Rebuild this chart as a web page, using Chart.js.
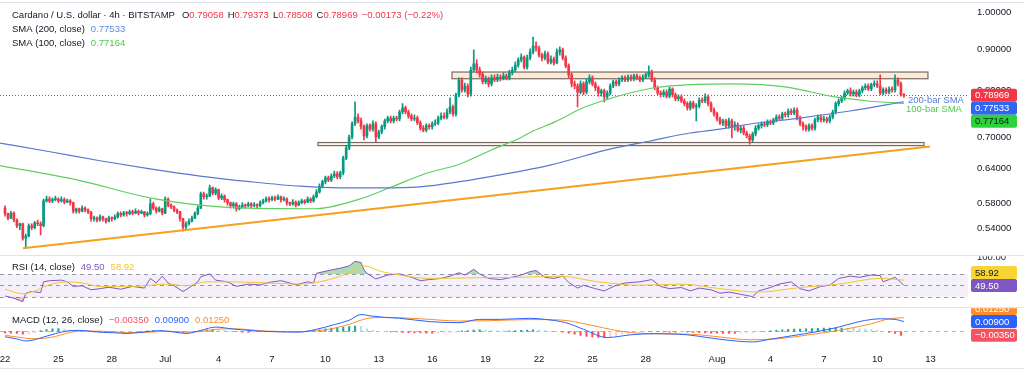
<!DOCTYPE html>
<html><head><meta charset="utf-8">
<script src="https://cdn.jsdelivr.net/npm/chart.js@4.4.1/dist/chart.umd.min.js"></script>
<style>html,body{margin:0;padding:0;background:#fff;overflow:hidden}</style>
</head><body>
<canvas id="c" width="1024" height="377"></canvas>
<script>
// ---------------- DATA ----------------
const BARS_PER_DAY = 6;            // 4h candles, bar 0 = Jun 22 00:00
const firstOpen = 0.572;
const closes = [
0.563,0.556,0.564,0.553,0.544,0.547,0.525,0.528,0.544,0.541,
0.548,0.547,0.544,0.584,0.587,0.584,0.586,0.587,0.584,0.586,
0.582,0.584,0.581,0.567,0.571,0.567,0.572,0.569,0.566,0.555,
0.556,0.553,0.558,0.555,0.551,0.556,0.555,0.558,0.563,0.561,
0.564,0.563,0.566,0.564,0.567,0.564,0.566,0.561,0.563,0.579,
0.572,0.567,0.571,0.564,0.587,0.577,0.574,0.569,0.566,0.555,
0.542,0.547,0.551,0.556,0.563,0.572,0.596,0.591,0.592,0.606,
0.597,0.603,0.589,0.592,0.586,0.581,0.576,0.579,0.571,0.574,
0.577,0.576,0.579,0.576,0.577,0.576,0.581,0.584,0.587,0.586,
0.589,0.587,0.591,0.586,0.587,0.581,0.579,0.582,0.577,0.581,
0.584,0.582,0.587,0.584,0.591,0.599,0.609,0.617,0.624,0.620,
0.627,0.631,0.626,0.633,0.660,0.679,0.701,0.728,0.742,0.734,
0.722,0.703,0.724,0.717,0.728,0.701,0.711,0.722,0.734,0.740,
0.734,0.740,0.738,0.753,0.762,0.753,0.744,0.738,0.740,0.730,
0.719,0.715,0.724,0.722,0.728,0.730,0.740,0.744,0.742,0.753,
0.764,0.749,0.791,0.825,0.802,0.811,0.793,0.849,0.864,0.849,
0.839,0.821,0.828,0.816,0.830,0.825,0.832,0.828,0.835,0.830,
0.842,0.849,0.861,0.874,0.881,0.856,0.879,0.894,0.909,0.904,
0.886,0.879,0.889,0.869,0.876,0.866,0.894,0.899,0.879,0.859,
0.837,0.816,0.811,0.797,0.816,0.797,0.821,0.830,0.816,0.807,
0.795,0.800,0.786,0.795,0.811,0.821,0.816,0.825,0.830,0.825,
0.832,0.828,0.835,0.830,0.825,0.832,0.837,0.844,0.825,0.807,
0.795,0.791,0.797,0.788,0.804,0.791,0.782,0.786,0.777,0.771,
0.762,0.773,0.764,0.766,0.779,0.777,0.786,0.771,0.757,0.749,
0.738,0.730,0.734,0.724,0.734,0.722,0.726,0.715,0.719,0.709,
0.703,0.695,0.707,0.719,0.724,0.728,0.726,0.732,0.730,0.736,
0.742,0.740,0.749,0.747,0.755,0.751,0.757,0.740,0.728,0.722,
0.717,0.724,0.719,0.736,0.742,0.736,0.738,0.734,0.742,0.753,
0.771,0.777,0.784,0.795,0.800,0.793,0.797,0.791,0.800,0.807,
0.811,0.804,0.814,0.816,0.811,0.795,0.802,0.797,0.804,0.802,
0.825,0.816,0.79058,0.78969];
const highs = [
0.576,0.564,0.567,0.566,0.555,0.548,0.548,0.531,0.547,0.547,
0.551,0.553,0.550,0.587,0.592,0.591,0.589,0.592,0.589,0.591,
0.589,0.587,0.586,0.582,0.572,0.572,0.576,0.574,0.571,0.567,
0.559,0.558,0.561,0.559,0.556,0.559,0.558,0.561,0.566,0.566,
0.567,0.567,0.569,0.569,0.571,0.569,0.569,0.567,0.566,0.587,
0.582,0.574,0.574,0.572,0.591,0.589,0.579,0.576,0.571,0.567,
0.556,0.550,0.555,0.559,0.566,0.576,0.599,0.599,0.596,0.611,
0.608,0.606,0.604,0.596,0.594,0.587,0.582,0.582,0.581,0.577,
0.581,0.579,0.582,0.581,0.581,0.579,0.584,0.587,0.591,0.591,
0.592,0.592,0.594,0.592,0.591,0.589,0.582,0.586,0.584,0.584,
0.587,0.586,0.591,0.589,0.594,0.603,0.613,0.620,0.627,0.627,
0.631,0.636,0.635,0.636,0.664,0.683,0.705,0.732,0.775,0.749,
0.740,0.726,0.728,0.728,0.734,0.732,0.715,0.726,0.738,0.744,
0.744,0.744,0.744,0.757,0.771,0.766,0.757,0.749,0.747,0.744,
0.734,0.724,0.728,0.728,0.732,0.736,0.744,0.751,0.751,0.760,
0.784,0.768,0.795,0.830,0.830,0.818,0.816,0.856,0.899,0.874,
0.856,0.844,0.835,0.832,0.837,0.837,0.839,0.837,0.842,0.839,
0.849,0.856,0.869,0.879,0.889,0.884,0.886,0.902,0.933,0.920,
0.909,0.891,0.896,0.894,0.884,0.881,0.902,0.907,0.904,0.884,
0.864,0.842,0.823,0.816,0.823,0.821,0.828,0.837,0.835,0.821,
0.811,0.804,0.804,0.800,0.816,0.825,0.825,0.830,0.835,0.835,
0.837,0.837,0.839,0.839,0.835,0.837,0.842,0.859,0.849,0.830,
0.811,0.800,0.802,0.802,0.809,0.807,0.795,0.791,0.791,0.782,
0.775,0.777,0.777,0.771,0.784,0.784,0.793,0.791,0.775,0.762,
0.753,0.742,0.738,0.738,0.740,0.738,0.732,0.730,0.724,0.724,
0.713,0.707,0.711,0.724,0.728,0.732,0.732,0.736,0.736,0.740,
0.747,0.747,0.753,0.753,0.760,0.760,0.762,0.762,0.744,0.732,
0.726,0.728,0.728,0.740,0.747,0.747,0.744,0.742,0.747,0.757,
0.775,0.782,0.788,0.800,0.804,0.807,0.802,0.802,0.804,0.811,
0.816,0.816,0.818,0.823,0.823,0.837,0.807,0.807,0.809,0.809,
0.837,0.830,0.821,0.79373];
const lows = [
0.559,0.553,0.555,0.550,0.541,0.538,0.522,0.510,0.527,0.538,
0.539,0.544,0.530,0.542,0.582,0.581,0.581,0.584,0.581,0.582,
0.579,0.581,0.577,0.564,0.564,0.564,0.566,0.566,0.563,0.551,
0.551,0.550,0.551,0.551,0.548,0.550,0.551,0.553,0.556,0.558,
0.559,0.559,0.561,0.561,0.563,0.561,0.563,0.558,0.559,0.561,
0.569,0.564,0.566,0.561,0.563,0.574,0.571,0.566,0.563,0.551,
0.536,0.539,0.545,0.550,0.555,0.561,0.571,0.587,0.587,0.591,
0.594,0.594,0.586,0.586,0.582,0.577,0.572,0.572,0.567,0.569,
0.572,0.572,0.574,0.572,0.574,0.572,0.574,0.579,0.582,0.582,
0.584,0.584,0.586,0.582,0.584,0.577,0.576,0.577,0.574,0.576,
0.579,0.579,0.581,0.581,0.582,0.589,0.597,0.606,0.613,0.617,
0.617,0.624,0.622,0.622,0.629,0.657,0.676,0.697,0.724,0.730,
0.717,0.695,0.699,0.713,0.713,0.691,0.697,0.707,0.717,0.730,
0.730,0.730,0.734,0.734,0.749,0.749,0.740,0.734,0.734,0.726,
0.715,0.711,0.711,0.717,0.717,0.724,0.726,0.736,0.738,0.738,
0.749,0.744,0.744,0.786,0.797,0.797,0.786,0.788,0.844,0.842,
0.832,0.816,0.816,0.809,0.811,0.821,0.821,0.823,0.825,0.825,
0.825,0.837,0.844,0.856,0.869,0.851,0.851,0.874,0.889,0.896,
0.881,0.871,0.874,0.864,0.864,0.861,0.864,0.886,0.874,0.854,
0.830,0.809,0.804,0.764,0.793,0.791,0.793,0.816,0.811,0.800,
0.788,0.788,0.775,0.782,0.791,0.807,0.811,0.811,0.821,0.821,
0.821,0.823,0.823,0.825,0.821,0.821,0.828,0.832,0.821,0.802,
0.791,0.786,0.786,0.784,0.784,0.786,0.777,0.777,0.773,0.766,
0.757,0.757,0.760,0.734,0.762,0.773,0.773,0.766,0.753,0.744,
0.734,0.726,0.724,0.719,0.719,0.699,0.715,0.711,0.709,0.705,
0.699,0.687,0.691,0.703,0.715,0.719,0.722,0.722,0.726,0.726,
0.732,0.736,0.736,0.742,0.742,0.747,0.747,0.736,0.724,0.715,
0.713,0.713,0.715,0.715,0.732,0.732,0.732,0.730,0.730,0.738,
0.749,0.766,0.773,0.779,0.791,0.788,0.788,0.786,0.786,0.795,
0.802,0.800,0.800,0.809,0.807,0.791,0.791,0.793,0.793,0.797,
0.797,0.811,0.788,0.78508];

// x-axis: days since Jun 22
const tickDays   = [0,3,6,9,12,15,18,21,24,27,30,33,36,40,43,46,49,52];
const tickLabels = ['22','25','28','Jul','4','7','10','13','16','19','22','25','28','Aug','4','7','10','13'];
const priceTicks = [1.0,0.9,0.8,0.7,0.64,0.58,0.54];

// [day, value]
const sma200 = [[-0.28,0.689],[2.53,0.672],[5.34,0.655],[8.15,0.640],[10.96,0.627],[13.76,0.617],[16.57,0.609],[18.82,0.606],[21.07,0.606],[23.31,0.608],[25.56,0.617],[27.81,0.629],[30.62,0.647],[33.99,0.677],[36.24,0.693],[38.48,0.709],[40.17,0.717],[41.97,0.728],[44.66,0.740],[47.47,0.755],[50.5,0.77533]];
const sma100 = [[-0.28,0.646],[4.04,0.620],[8.15,0.589],[10.96,0.577],[13.76,0.572],[17.42,0.571],[19.83,0.586],[21.74,0.608],[23.60,0.631],[25.56,0.649],[27.36,0.676],[28.93,0.699],[29.66,0.713],[30.90,0.732],[32.47,0.762],[33.71,0.779],[35.11,0.795],[36.52,0.807],[38.48,0.814],[41.01,0.816],[43.82,0.809],[46.63,0.786],[48.48,0.777],[50.5,0.77164]];
const trendLine = [[1.01,0.510],[51.97,0.682]];
// [fromDay, toDay, lowPrice, highPrice]
const upperZone = [25.11, 51.85, 0.828, 0.844];
const lowerZone = [17.58, 51.63, 0.684, 0.690];

// [bar index, value]
const rsiLine = [[0,31],[1,30],[3,27],[5,23],[6,21],[7,36],[9,39],[12,37],[13,56],[15,58],[19,59],[21,56],[23,48],[26,49],[29,42],[32,44],[35,46.5],[39,43],[43,48],[47,45],[49,62],[51,54],[53,66],[55,54],[57,49],[60,39],[61,42],[65,56],[66,65],[69,70],[71,59],[75,56],[78,48],[82,52],[86,50.6],[89,55],[93,58],[96,54],[98,50.6],[102,56],[104,54],[105,71],[110,77],[113,80],[116,84],[118,92],[120,90],[121,77],[122,71],[125,61],[129,68],[133,70],[137,64],[140,58],[143,60],[147,62],[150,66],[153,72],[155,68],[158,78],[160,70],[163,62],[167,60],[170,63],[174,68],[177,74],[179,76],[182,64],[185,62],[188,66],[190,55],[193,45],[195,50],[199,44],[202,40],[206,50],[209,54],[214,56],[218,60],[221,48],[224,44],[228,46],[231,40],[234,45],[238,42],[241,36],[244,38],[248,34],[252,30],[254,40],[258,46],[261,52],[265,56],[268,44],[271,40],[275,48],[278,50],[281,62],[285,66],[288,64],[292,68],[295,67],[296,56],[298,60],[300,64],[302,55],[303,49.50]];
const rsiMA = [[0,43],[6,35],[9,38],[11,42],[15,51],[21,56],[26,54],[32,48],[43,48],[55,52],[61,49],[68,56],[77,56],[88,54],[99,52],[106,56],[112,64],[116,72],[121,84],[127,74],[133,68],[143,62],[157,63],[174,64],[187,66],[200,56],[214,50],[228,52],[241,44],[254,38],[268,46],[281,52],[295,62],[303,58.92]];
const macdLine = [[0,-0.0048],[4,-0.0068],[7,-0.0086],[10,-0.0075],[13,-0.005],[17,-0.002],[21,0.0005],[25,0.001],[32,-0.0006],[37,-0.0012],[41,-0.0018],[47,-0.0005],[52,0.0008],[57,-0.0005],[61,-0.0018],[66,0.001],[71,0.004],[77,0.0022],[83,0.0008],[88,0],[94,-0.0004],[99,-0.0006],[105,0.002],[111,0.0062],[116,0.0102],[120,0.0154],[123,0.0142],[128,0.0128],[133,0.012],[143,0.009],[153,0.008],[160,0.011],[167,0.011],[177,0.012],[182,0.011],[189,0.008],[195,0.002],[203,-0.0055],[211,-0.003],[219,-0.002],[230,-0.003],[238,-0.006],[244,-0.008],[252,-0.0095],[258,-0.007],[265,-0.004],[274,0],[281,0.004],[288,0.009],[295,0.0115],[300,0.011],[303,0.009]];
const signalLine = [[0,-0.0035],[4,-0.005],[9,-0.0066],[13,-0.0063],[17,-0.0045],[21,-0.0015],[25,0.0002],[32,0.0003],[41,-0.001],[49,-0.0006],[55,0.0002],[61,-0.0006],[66,0],[71,0.002],[77,0.0025],[83,0.0015],[88,0.0004],[99,-0.0002],[106,0.0008],[111,0.003],[116,0.0065],[122,0.0118],[128,0.0128],[133,0.0125],[143,0.011],[153,0.0095],[163,0.0098],[177,0.0108],[187,0.0105],[197,0.006],[207,0.0005],[217,-0.002],[231,-0.0025],[241,-0.005],[251,-0.0075],[261,-0.0065],[271,-0.003],[281,0.001],[292,0.007],[298,0.0115],[303,0.0125]];
// histogram, every 2nd bar starting at bar 0, in thousandths
const histMilli = [-1.3,-1.5,-1.8,-2.5,-2.2,-1.0,0.8,1.8,2.5,2.6,2.2,1.5,1.0,0.6,0.2,-0.3,-0.6,-0.8,-0.8,-0.7,
-0.6,-0.5,-0.2,0.2,0.5,0.8,0.6,0.4,0.0,-0.5,-0.9,-0.8,0.0,0.8,1.5,2.0,1.6,1.0,0.4,-0.2,
-0.6,-0.8,-0.7,-0.6,-0.4,-0.3,-0.3,-0.4,-0.3,-0.2,0.2,0.6,1.0,1.5,2.5,3.0,3.5,4.0,4.5,5.0,
4.5,2.5,1.0,0.2,0.0,-0.3,-0.5,-0.8,-1.0,-1.2,-1.4,-1.5,-1.5,-1.3,-1.2,-1.0,-0.6,0.5,0.8,1.2,
1.4,1.3,1.0,0.8,0.6,0.6,0.8,1.0,1.2,1.4,1.2,0.8,0.4,0.2,-0.6,-1.5,-2.5,-3.5,-4.5,-5.0,
-5.5,-5.5,-4.5,-3.5,-2.5,-1.8,-1.2,-0.6,-0.2,0.0,-0.2,-0.5,-0.6,-0.6,-0.5,-0.6,-0.8,-1.0,-1.3,-1.5,
-1.6,-1.7,-1.8,-1.8,-1.6,-1.4,-1.2,-0.5,0.0,0.5,1.0,1.5,2.0,2.2,2.2,2.4,2.6,2.8,3.0,3.0,
3.2,3.2,3.0,2.8,2.5,2.2,1.8,1.0,0.0,-0.8,-1.8,-3.5];
const lastOHLC = ['0.79058','0.79373','0.78508','0.78969'];
const lastChange = '−0.00173 (−0.22%)';
const lastSMA200 = 0.77533, lastSMA100 = 0.77164;
const lastRSI = 49.50, lastRSIMA = 58.92;
const lastHist = -0.00350, lastMACD = 0.00900, lastSignal = 0.01250;

// ---------------- STYLE ----------------
const FONT = "'Liberation Sans', Arial, sans-serif";
const DARK = '#131722', UP = '#089981', DOWN = '#f23645';
const C200 = '#5a78d0', C100 = '#5fce5f', CRSI = '#7e57c2', CRSIMA = '#f2c530', CMACD = '#2962ff', CSIG = '#ff8c2a';

const bars = closes.map((c, i) => ({o: i === 0 ? firstOpen : closes[i - 1], h: highs[i], l: lows[i], c}));
const barColor = bars.map(b => b.c >= b.o ? UP : DOWN);
const bx = i => i / BARS_PER_DAY;
const pairs = (arr, toX) => arr.map(([a, v]) => ({x: toX(a), y: v}));
const histVals = histMilli.map(v => v / 1000);
const histColors = histVals.map((v, k) => {
  const prev = k ? histVals[k - 1] : v;
  if (v >= 0) return v >= prev ? '#26a69a' : '#b2dfdb';
  return v <= prev ? '#ff5252' : '#ffcdd2';
});

function segs(ctx, x, y, list) {
  for (const [t, col, gap] of list) { ctx.fillStyle = col; ctx.fillText(t, x, y); x += ctx.measureText(t).width + (gap || 0); }
}
function box(ctx, x, yc, text, bg, fg) {
  ctx.fillStyle = bg; ctx.beginPath(); ctx.roundRect(x, yc - 6.5, 46, 13, 2); ctx.fill();
  ctx.fillStyle = fg; ctx.textAlign = 'left'; ctx.textBaseline = 'middle'; ctx.fillText(text, x + 4, yc + 0.5);
}
function stackBoxes(list, anchor) {
  const H = 13;
  for (let k = anchor - 1; k >= 0; k--) if (list[k].py > list[k + 1].py - H) list[k].py = list[k + 1].py - H;
  for (let k = anchor + 1; k < list.length; k++) if (list[k].py < list[k - 1].py + H) list[k].py = list[k - 1].py + H;
}

const decor = {
  id: 'decor',
  beforeDatasetsDraw(chart) {
    const {ctx, chartArea: a, scales: {x, y, yR, yM}} = chart;
    ctx.save();
    for (const [z, fill] of [[upperZone, 'rgba(252,226,200,0.75)'], [lowerZone, 'rgba(252,232,214,0.5)']]) {
      const x0 = x.getPixelForValue(z[0]), x1 = x.getPixelForValue(z[1]);
      const y0 = y.getPixelForValue(z[3]), y1 = y.getPixelForValue(z[2]);
      ctx.fillStyle = fill; ctx.fillRect(x0, y0, x1 - x0, y1 - y0);
      ctx.strokeStyle = '#756b63'; ctx.lineWidth = 1.2; ctx.strokeRect(x0, y0, x1 - x0, y1 - y0);
    }
    const r70 = yR.getPixelForValue(70), r30 = yR.getPixelForValue(30), r50 = yR.getPixelForValue(50);
    ctx.fillStyle = 'rgba(126,87,194,0.09)'; ctx.fillRect(a.left, r70, a.right - a.left, r30 - r70);
    ctx.strokeStyle = '#9598a1'; ctx.lineWidth = 1; ctx.setLineDash([4, 4]);
    for (const yy of [r70, r50, r30]) { ctx.beginPath(); ctx.moveTo(a.left, Math.round(yy) + 0.5); ctx.lineTo(a.right, Math.round(yy) + 0.5); ctx.stroke(); }
    // MACD zero line
    const zy = Math.round(yM.getPixelForValue(0)) + 0.5;
    ctx.strokeStyle = '#b2b5be'; ctx.beginPath(); ctx.moveTo(a.left, zy); ctx.lineTo(a.right, zy); ctx.stroke();
    // last price line
    ctx.setLineDash([1, 2]); ctx.strokeStyle = DOWN;
    const py = Math.round(y.getPixelForValue(+lastOHLC[3])) + 0.5;
    ctx.beginPath(); ctx.moveTo(a.left, py); ctx.lineTo(a.right, py); ctx.stroke();
    ctx.restore();
  },
  afterDraw(chart) {
    const {ctx, chartArea: a, scales: {x, y, yR, yM}} = chart;
    const W = chart.width;
    ctx.save();
    ctx.strokeStyle = '#e0e3eb'; ctx.lineWidth = 1;
    for (const yy of [2.5, Math.round(yR.top) + 0.5, Math.round(yM.top) + 0.5, 368.5]) {
      ctx.beginPath(); ctx.moveTo(0, yy); ctx.lineTo(W, yy); ctx.stroke();
    }
    ctx.font = '9.5px ' + FONT; ctx.textBaseline = 'middle'; ctx.textAlign = 'left';
    segs(ctx, 12, 15, [['Cardano / U.S. dollar · 4h · BITSTAMP', DARK, 7], ['O', DARK, 0], [lastOHLC[0], DOWN, 4], ['H', DARK, 0], [lastOHLC[1], DOWN, 4], ['L', DARK, 0], [lastOHLC[2], DOWN, 4], ['C', DARK, 0], [lastOHLC[3], DOWN, 4], [lastChange, DOWN, 0]]);
    segs(ctx, 12, 29, [['SMA (200, close)', DARK, 6], [lastSMA200.toFixed(5), '#5a8ae0', 0]]);
    segs(ctx, 12, 43, [['SMA (100, close)', DARK, 6], [lastSMA100.toFixed(5), '#4cc94c', 0]]);
    segs(ctx, 12, yR.top + 12, [['RSI (14, close)', DARK, 6], [lastRSI.toFixed(2), CRSI, 6], [lastRSIMA.toFixed(2), CRSIMA, 0]]);
    segs(ctx, 12, yM.top + 13, [['MACD (12, 26, close)', DARK, 6], ['−' + Math.abs(lastHist).toFixed(5), '#f7525f', 6], [lastMACD.toFixed(5), CMACD, 6], [lastSignal.toFixed(5), CSIG, 0]]);
    const ex = x.getPixelForValue(50.56) + 3;
    ctx.fillStyle = C200; ctx.fillText('200-bar SMA', ex, y.getPixelForValue(lastSMA200) - 1.8);
    ctx.fillStyle = '#4cc94c'; ctx.fillText('100-bar SMA', ex - 2, y.getPixelForValue(lastSMA100) + 5.8);
    const bxL = a.right + 3;
    const p = [
      {py: y.getPixelForValue(+lastOHLC[3]), t: lastOHLC[3], bg: DOWN, fg: '#fff'},
      {py: y.getPixelForValue(lastSMA200), t: lastSMA200.toFixed(5), bg: '#2f67f2', fg: '#fff'},
      {py: y.getPixelForValue(lastSMA100), t: lastSMA100.toFixed(5), bg: '#2bd23a', fg: DARK}];
    stackBoxes(p, 0);
    p.forEach(b => box(ctx, bxL, b.py, b.t, b.bg, b.fg));
    ctx.save(); ctx.beginPath(); ctx.rect(a.right, yR.top + 1, W - a.right, yR.bottom - yR.top - 1); ctx.clip();
    ctx.fillStyle = DARK; ctx.fillText('100.00', a.right + 9, yR.getPixelForValue(100) + 0.5);
    const r = [
      {py: yR.getPixelForValue(lastRSIMA), t: lastRSIMA.toFixed(2), bg: '#f6d535', fg: DARK},
      {py: yR.getPixelForValue(lastRSI), t: lastRSI.toFixed(2), bg: CRSI, fg: '#fff'}];
    stackBoxes(r, 1);
    r.forEach(b => box(ctx, bxL, b.py, b.t, b.bg, b.fg));
    ctx.restore();
    ctx.save(); ctx.beginPath(); ctx.rect(a.right, yM.top + 1, W - a.right, yM.bottom - yM.top + 10); ctx.clip();
    const m = [
      {py: yM.getPixelForValue(lastSignal), t: lastSignal.toFixed(5), bg: '#ff8c2a', fg: '#fff'},
      {py: yM.getPixelForValue(lastMACD), t: lastMACD.toFixed(5), bg: CMACD, fg: '#fff'},
      {py: yM.getPixelForValue(lastHist), t: '−' + Math.abs(lastHist).toFixed(5), bg: '#f7525f', fg: '#fff'}];
    stackBoxes(m, 1);
    m.forEach(b => box(ctx, bxL, b.py, b.t, b.bg, b.fg));
    ctx.restore();
    ctx.restore();
  }
};

const fitRight = s => { s.width = 56; s.paddingTop = 0; s.paddingBottom = 0; s.paddingLeft = 0; s.paddingRight = 0; };
const hiddenAxis = (extra) => Object.assign({
  position: 'right', stack: 'panes', grid: {display: false, drawTicks: false, tickLength: 0}, border: {display: false},
  ticks: {display: false}, afterFit: fitRight
}, extra);

new Chart(document.getElementById('c'), {
  type: 'bar',
  data: {
    datasets: [
      {type: 'line', data: pairs(trendLine, d => d), borderColor: '#f5a01e', borderWidth: 2, pointRadius: 0, yAxisID: 'y', order: 0},
      {type: 'line', data: pairs(sma200, d => d), borderColor: C200, borderWidth: 1.2, pointRadius: 0, cubicInterpolationMode: 'monotone', yAxisID: 'y', order: 1},
      {type: 'line', data: pairs(sma100, d => d), borderColor: C100, borderWidth: 1.2, pointRadius: 0, cubicInterpolationMode: 'monotone', yAxisID: 'y', order: 1},
      {type: 'bar', data: bars.map((b, i) => ({x: bx(i), y: [b.o, b.c]})), backgroundColor: barColor, barThickness: 2, minBarLength: 1, grouped: false, yAxisID: 'y', order: 2},
      {type: 'bar', data: bars.map((b, i) => ({x: bx(i), y: [b.l, b.h]})), backgroundColor: barColor, barThickness: 1, grouped: false, yAxisID: 'y', order: 3},
      {type: 'line', data: pairs(rsiLine, bx), borderColor: CRSI, borderWidth: 1, pointRadius: 0, yAxisID: 'yR', order: 1,
        fill: {target: {value: 70}, above: 'rgba(76,175,80,0.45)', below: 'rgba(0,0,0,0)'}},
      {type: 'line', data: pairs(rsiLine, bx), borderWidth: 0, borderColor: 'rgba(0,0,0,0)', pointRadius: 0, yAxisID: 'yR', order: 2,
        fill: {target: {value: 30}, above: 'rgba(0,0,0,0)', below: 'rgba(242,54,69,0.3)'}},
      {type: 'line', data: pairs(rsiMA, bx), borderColor: CRSIMA, borderWidth: 1, pointRadius: 0, cubicInterpolationMode: 'monotone', yAxisID: 'yR', order: 0},
      {type: 'bar', data: histVals.map((v, k) => ({x: bx(2 * k), y: v})), backgroundColor: histColors, barThickness: 1.5, grouped: false, yAxisID: 'yM', order: 3},
      {type: 'line', data: pairs(macdLine, bx), borderColor: CMACD, borderWidth: 1, pointRadius: 0, cubicInterpolationMode: 'monotone', yAxisID: 'yM', order: 1},
      {type: 'line', data: pairs(signalLine, bx), borderColor: CSIG, borderWidth: 1, pointRadius: 0, cubicInterpolationMode: 'monotone', yAxisID: 'yM', order: 1}
    ]
  },
  options: {
    responsive: false, animation: false, devicePixelRatio: 1,
    layout: {padding: {top: 3, right: 0, bottom: 11.4, left: 0}},
    plugins: {legend: {display: false}, tooltip: {enabled: false}},
    scales: {
      x: {type: 'linear', min: -0.281, max: 54.1, offset: false,
        grid: {display: false, drawTicks: false, tickLength: 0}, border: {display: false},
        afterBuildTicks: s => { s.ticks = tickDays.map(v => ({value: v})); },
        afterFit: s => { s.paddingLeft = 0; s.paddingRight = 0; s.height = 20; },
        ticks: {autoSkip: false, maxRotation: 0, padding: 8, color: DARK, font: {size: 9.5, family: FONT},
          callback: v => { const k = tickDays.indexOf(v); return k >= 0 ? tickLabels[k] : ''; }}},
      y: {type: 'logarithmic', position: 'right', stack: 'panes', stackWeight: 252, weight: 1,
        min: 0.4999, max: 1.0281, bounds: 'data',
        grid: {display: false, drawTicks: false, tickLength: 0}, border: {display: false},
        afterBuildTicks: s => { s.ticks = priceTicks.map(v => ({value: v})); },
        afterFit: fitRight,
        ticks: {autoSkip: false, padding: 9, color: DARK, font: {size: 9.5, family: FONT}, callback: v => Number(v).toFixed(5)}},
      yR: hiddenAxis({type: 'linear', stackWeight: 52, weight: 2, min: 11.1, max: 102.7}),
      yM: hiddenAxis({type: 'linear', stackWeight: 38.2, weight: 3, min: -0.01282, max: 0.02191})
    }
  },
  plugins: [decor]
});
</script>
</body></html>
